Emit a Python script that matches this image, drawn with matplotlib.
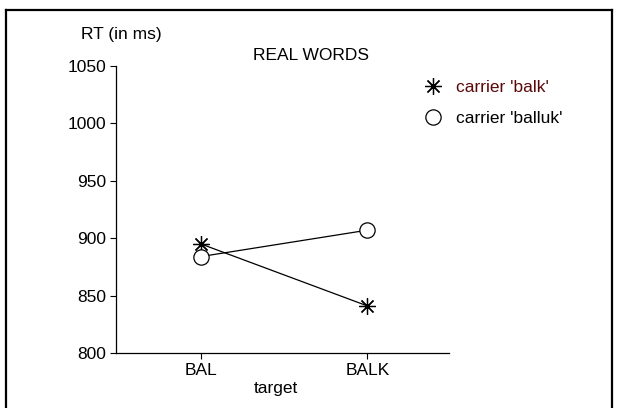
import matplotlib
matplotlib.use("Agg")
import matplotlib.pyplot as plt
from matplotlib.lines import Line2D

plt.rcParams['font.family'] = ['Liberation Sans', 'DejaVu Sans']

targets = ["BAL", "BALK"]
series_names = ["carrier 'balk'", "carrier 'balluk'"]
rt_balk = [895, 841]
rt_balluk = [884, 907]
y_ticks = [800, 850, 900, 950, 1000, 1050]

W, H = 618, 408
FS = 12.5
fig = plt.figure(figsize=(W / 100, H / 100), dpi=100)
ax = fig.add_axes([116 / W, 1 - 353 / H, (449 - 116) / W, (353 - 66) / H])

x = list(range(len(targets)))
ax.plot(x, rt_balk, color='black', lw=0.9, marker=(8, 2, 0), ms=12,
        mew=0.9, mec='black')
ax.plot(x, rt_balluk, color='black', lw=0.9, marker='o', ms=11,
        mfc='white', mec='black', mew=0.9)

ax.set_xlim(-0.51, 1.49)
ax.set_ylim(800, 1050)
ax.set_xticks(x)
ax.set_xticklabels(targets, fontsize=FS)
ax.set_yticks(y_ticks)
ax.set_yticklabels([str(v) for v in y_ticks], fontsize=FS)
ax.tick_params(axis='both', length=4, width=0.8, pad=3)
for s in ['top', 'right']:
    ax.spines[s].set_visible(False)
for s in ['left', 'bottom']:
    ax.spines[s].set_linewidth(0.9)

fig.text(276 / W, 1 - 388 / H, "target", fontsize=FS, ha='center', va='center')
fig.text(81 / W, 1 - 35 / H, "RT (in ms)", fontsize=FS, ha='left', va='center')
fig.text(311 / W, 1 - 55 / H, "REAL WORDS", fontsize=FS, ha='center', va='center')

handles = [
    Line2D([], [], ls='none', marker=(8, 2, 0), ms=12, mew=0.9, color='black'),
    Line2D([], [], ls='none', marker='o', ms=11, mfc='white', mec='black', mew=0.9),
]
leg = fig.legend(handles, series_names, loc='upper left',
                 bbox_to_anchor=(423 / W, 1 - 80 / H), frameon=False,
                 fontsize=FS, handlelength=1.2, handletextpad=0.7,
                 labelspacing=0.9, borderpad=0, borderaxespad=0)
leg.get_texts()[0].set_color('#5a0808')

# figure frame
fx0, fx1, fy = 6 / W, 612 / W, 1 - 10 / H
fig.add_artist(Line2D([fx0, fx0], [0, fy], transform=fig.transFigure, color='black', lw=1.6))
fig.add_artist(Line2D([fx0, fx1], [fy, fy], transform=fig.transFigure, color='black', lw=1.6))
fig.add_artist(Line2D([fx1, fx1], [0, fy], transform=fig.transFigure, color='black', lw=1.6))

fig.savefig("out.png", dpi=100)
